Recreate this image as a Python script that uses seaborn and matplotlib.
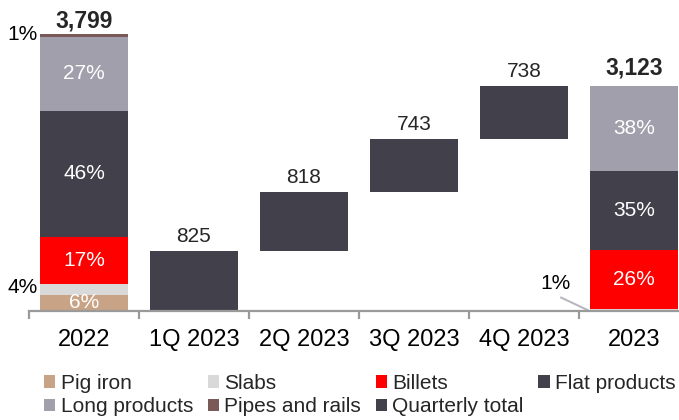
import matplotlib
matplotlib.use("Agg")
import matplotlib.pyplot as plt
import numpy as np
import pandas as pd
import seaborn as sns
from matplotlib.patches import Patch

# ---- data ----
categories = ["2022", "1Q 2023", "2Q 2023", "3Q 2023", "4Q 2023", "2023"]
segments = ["Pig iron", "Slabs", "Billets", "Flat products", "Long products", "Pipes and rails"]
total_2022 = 3799
total_2023 = 3123
share_2022 = [6, 4, 17, 46, 27, 1]      # % of 2022 sales
share_2023 = [0, 1, 26, 35, 38, 0]      # % of 2023 sales
quarterly = [825, 818, 743, 738]        # quarterly sales volume

seg_colors = ["#C8A385", "#D9D9D9", "#FF0000", "#42414B", "#A09FAB", "#7A5A59"]
quarter_color = "#42414B"
axis_gray = "#9A9A9A"

sns.set_theme(style="white")
plt.rcParams["font.family"] = ["Liberation Sans", "DejaVu Sans"]

fig = plt.figure(figsize=(6.79, 4.20), dpi=100)
ax = fig.add_axes([29 / 679, 1 - 311 / 420, 650 / 679, 311 / 420])

# ---- build stacked table ----
rows = []
n = len(categories)
bottom = np.zeros(n)
for seg, s22, s23, col in zip(segments, share_2022, share_2023, seg_colors):
    vals = np.zeros(n)
    vals[0] = total_2022 * s22 / 100
    vals[-1] = total_2023 * s23 / 100
    rows.append((seg, vals.copy(), bottom.copy(), col))
    bottom = bottom + vals

q_vals = np.zeros(n)
q_base = np.zeros(n)
q_vals[1:5] = quarterly
q_base[1:5] = np.concatenate([[0], np.cumsum(quarterly)[:-1]])
rows.append(("Quarterly total", q_vals, q_base, quarter_color))

for seg, vals, base, col in rows:
    df = pd.DataFrame({"category": categories, "value": vals})
    sns.barplot(data=df, x="category", y="value", order=categories,
                bottom=base, color=col, width=0.8, errorbar=None,
                saturation=1, linewidth=0, ax=ax)

ax.set_xlim(-0.5, 5.41)
ax.set_ylim(0, 4312)
ax.set_xlabel("")
ax.set_ylabel("")
ax.set_yticks([])

for side in ["left", "right", "top"]:
    ax.spines[side].set_visible(False)
ax.spines["bottom"].set_color(axis_gray)
ax.spines["bottom"].set_linewidth(1.6)

ax.set_xticks(range(n))
ax.set_xticklabels(categories, fontsize=17, color="black")
ax.set_xticks(np.arange(-0.5, 5.0, 1.0), minor=True)
ax.tick_params(axis="x", which="major", length=0, pad=13)
ax.tick_params(axis="x", which="minor", length=6, width=1.6, color=axis_gray,
               direction="out", bottom=True)

# ---- segment labels ----
white_2022 = {"Pig iron", "Billets", "Flat products", "Long products"}
white_2023 = {"Billets", "Flat products", "Long products"}
for seg, vals, base, col in rows[:-1]:
    i22 = segments.index(seg)
    if seg in white_2022:
        ax.text(0, base[0] + vals[0] / 2, f"{share_2022[i22]}%", ha="center",
                va="center", color="white", fontsize=15, clip_on=True)
    if seg in white_2023:
        ax.text(5, base[-1] + vals[-1] / 2, f"{share_2023[i22]}%", ha="center",
                va="center", color="white", fontsize=15)

# small shares written outside the bars
i_slab = segments.index("Slabs")
i_pipe = segments.index("Pipes and rails")
ax.text(-0.42, rows[i_slab][2][0] + rows[i_slab][1][0] / 2 + 20, f"{share_2022[i_slab]}%",
        ha="right", va="center", fontsize=15, color="black", clip_on=False)
ax.text(-0.42, rows[i_pipe][2][0] + 30, f"{share_2022[i_pipe]}%",
        ha="right", va="center", fontsize=15, color="black", clip_on=False)
ax.text(4.29, 388, f"{share_2023[i_slab]}%", ha="center", va="center",
        fontsize=15, color="black")
ax.plot([4.33, 4.59], [192, 5], color="#B8B8C0", lw=1.5, solid_capstyle="butt")

# ---- totals ----
ax.annotate(f"{total_2022:,}", (0, bottom[0]), xytext=(0, 5), textcoords="offset points",
            ha="center", va="baseline", fontsize=16.5, fontweight="bold")
ax.annotate(f"{total_2023:,}", (5, bottom[-1]), xytext=(0, 8), textcoords="offset points",
            ha="center", va="baseline", fontsize=16.5, fontweight="bold")
for i, q in enumerate(quarterly, start=1):
    ax.annotate(f"{q:,}", (i, q_base[i] + q), xytext=(0, 6.5), textcoords="offset points",
                ha="center", va="baseline", fontsize=15)

# ---- legend ----
labels = segments + ["Quarterly total"]
lcolors = seg_colors + [quarter_color]
handles = {lab: Patch(facecolor=c, edgecolor="none") for lab, c in zip(labels, lcolors)}
# row-major reading order in a 4-column, column-filled legend
order = ["Pig iron", "Long products", "Slabs", "Pipes and rails",
         "Billets", "Quarterly total", "Flat products"]
fig.legend([handles[o] for o in order], order, loc="upper left",
           bbox_to_anchor=(44 / 679, 1 - 374 / 420), ncol=4, frameon=False,
           fontsize=15, handlelength=0.55, handleheight=0.55, handletextpad=0.25,
           columnspacing=0.7, labelspacing=0.2, borderpad=0, borderaxespad=0)

fig.savefig("out.png", dpi=100)
